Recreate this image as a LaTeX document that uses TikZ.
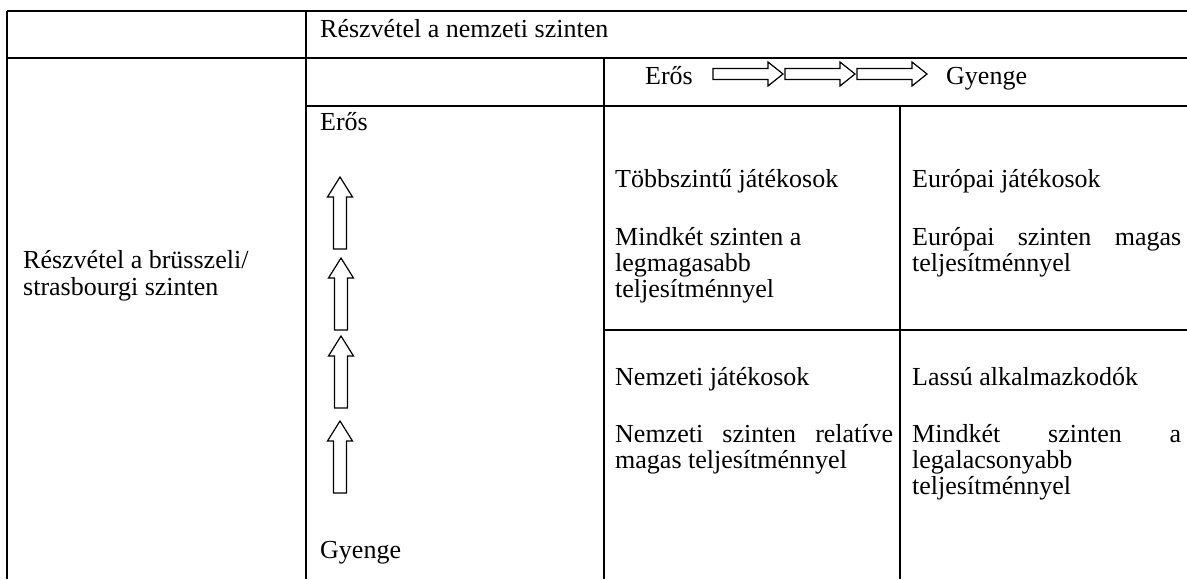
\documentclass[tikz,border=0pt]{standalone}
\usepackage{fontspec}
\setmainfont{Liberation Serif}
\begin{document}
\begin{tikzpicture}[x=1pt,y=-1pt,
  rule/.style={line width=2pt},
  txt/.style={anchor=base west, inner sep=0pt, font=\fontsize{26}{27}\selectfont},
  blockarrow/.style={draw, line width=1.2pt, fill=white, line join=miter},
  pics/uparrow/.style={code={
    \draw[blockarrow] (0,0) -- (12.5,20) -- (6.5,20) -- (6.5,72) -- (-6.5,72)
      -- (-6.5,20) -- (-12.5,20) -- cycle;}},
  pics/rightarrow/.style={code={
    \draw[blockarrow] (0,0) -- (-15,-12) -- (-15,-5.5) -- (-70,-5.5) -- (-70,5.5)
      -- (-15,5.5) -- (-15,12) -- cycle;}}]
\useasboundingbox (0,0) rectangle (1187,579);

% table rules
\draw[rule] (7,11) -- (1187,11);
\draw[rule] (7,58) -- (1187,58);
\draw[rule] (306,106) -- (1187,106);
\draw[rule] (604,330) -- (1187,330);
\draw[rule] (7,11) -- (7,579);
\draw[rule] (306,11) -- (306,579);
\draw[rule] (604,58) -- (604,579);
\draw[rule] (900,106) -- (900,579);

% header row
\node[txt] (nat) at (320,37) {Részvétel a nemzeti szinten};
\node[txt] (hstrong) at (645,84) {Erős};
\node[txt] (hweak) at (946,84) {Gyenge};
\pic at (783,74) {rightarrow};
\pic at (855,74) {rightarrow};
\pic at (927,74) {rightarrow};

% row label
\node[txt] (eu1) at (23,268) {Részvétel a brüsszeli/};
\node[txt] (eu2) at (23,295) {strasbourgi szinten};

% vertical scale
\node[txt] (vstrong) at (320,130) {Erős};
\node[txt] (vweak) at (320,558) {Gyenge};
\pic at (340,177) {uparrow};
\pic at (341,258) {uparrow};
\pic at (341,336) {uparrow};
\pic at (340,421) {uparrow};

% top left cell
\node[txt] (ml0) at (615,187) {Többszintű játékosok};
\node[txt] (ml1) at (615,245) {Mindkét szinten a};
\node[txt] (ml2) at (615,271) {legmagasabb};
\node[txt] (ml3) at (615,297) {teljesítménnyel};

% top right cell
\node[txt] (ep0) at (912,187) {Európai játékosok};
\node[txt] (ep1) at (912,245) {\hbox to 269pt{Európai\hfill szinten\hfill magas}};
\node[txt] (ep2) at (912,271) {teljesítménnyel};

% bottom left cell
\node[txt] (np0) at (615,385) {Nemzeti játékosok};
\node[txt] (np1) at (615,442) {\hbox to 278pt{Nemzeti\hfill szinten\hfill relatíve}};
\node[txt] (np2) at (615,468) {magas teljesítménnyel};

% bottom right cell
\node[txt] (la0) at (912,385) {Lassú alkalmazkodók};
\node[txt] (la1) at (912,442) {\hbox to 269pt{Mindkét\hfill szinten\hfill a}};
\node[txt] (la2) at (912,468) {legalacsonyabb};
\node[txt] (la3) at (912,494) {teljesítménnyel};
\end{tikzpicture}
\end{document}
